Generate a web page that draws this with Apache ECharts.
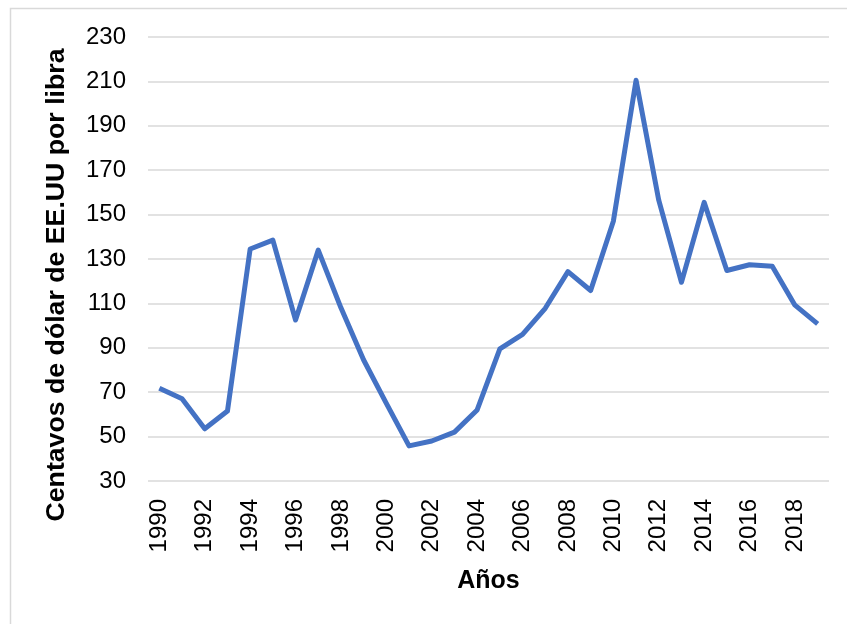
<!DOCTYPE html>
<html>
<head>
<meta charset="utf-8">
<script src="https://cdn.jsdelivr.net/npm/echarts@6/dist/echarts.min.js"></script>
<style>
  html, body { margin: 0; padding: 0; background: #fff; }
  #chart { width: 847px; height: 624px; }
</style>
</head>
<body>
<div id="chart"></div>
<script>
// años y precio (centavos de dólar de EE.UU por libra)
const years = ['1990', '1991', '1992', '1993', '1994', '1995', '1996', '1997', '1998', '1999',
  '2000', '2001', '2002', '2003', '2004', '2005', '2006', '2007', '2008', '2009',
  '2010', '2011', '2012', '2013', '2014', '2015', '2016', '2017', '2018', '2019'];
const prices = [71.8, 67, 53.5, 61.5, 134.5, 138.5, 102.5, 134, 108, 84.5,
  65, 45.8, 48, 52, 62, 89.5, 96, 107.8, 124.3, 115.8,
  147, 210.5, 156.5, 119.5, 155.5, 124.8, 127.4, 126.7, 109.2, 100.8];
const yTicks = { min: 30, max: 230, step: 20 };

const chart = echarts.init(document.getElementById('chart'));

const option = {
  animation: false,
  backgroundColor: '#fff',
  grid: { left: 148, right: 18, top: 37, bottom: 143 },
  graphic: [
    {
      type: 'rect',
      shape: { x: 10.5, y: 8.5, width: 860, height: 640 },
      style: { fill: 'none', stroke: '#d9d9d9', lineWidth: 1.5 },
      silent: true
    },
    {
      // titulo del eje y, algo desplazado hacia abajo como en el original
      type: 'text',
      x: 57,
      y: 285,
      rotation: Math.PI / 2,
      style: {
        text: 'Centavos de dólar de EE.UU por libra',
        font: 'bold 26.7px "Liberation Sans", Arial, sans-serif',
        fill: '#000',
        align: 'center',
        verticalAlign: 'middle'
      }
    }
  ],
  xAxis: {
    type: 'category',
    data: years,
    boundaryGap: true,
    name: 'Años',
    nameLocation: 'middle',
    nameGap: 88,
    nameTextStyle: {
      fontFamily: '"Liberation Sans", Arial, sans-serif',
      fontSize: 25,
      fontWeight: 'bold',
      color: '#000'
    },
    axisLine: { show: false },
    axisTick: { show: false },
    axisLabel: {
      interval: 1,
      rotate: 90,
      margin: 18,
      fontFamily: '"Liberation Sans", Arial, sans-serif',
      fontSize: 24,
      color: '#000'
    },
    splitLine: { show: false }
  },
  yAxis: {
    type: 'value',
    min: yTicks.min,
    max: yTicks.max,
    interval: yTicks.step,
    axisLine: { show: false },
    axisTick: { show: false },
    axisLabel: {
      margin: 22,
      fontFamily: '"Liberation Sans", Arial, sans-serif',
      fontSize: 24,
      color: '#000'
    },
    splitLine: { lineStyle: { color: '#d9d9d9', width: 1.5 } }
  },
  series: [
    {
      type: 'line',
      data: prices,
      symbol: 'none',
      lineStyle: { color: '#4472c4', width: 5, join: 'round' },
      itemStyle: { color: '#4472c4' }
    }
  ]
};

chart.setOption(option);
</script>
</body>
</html>
